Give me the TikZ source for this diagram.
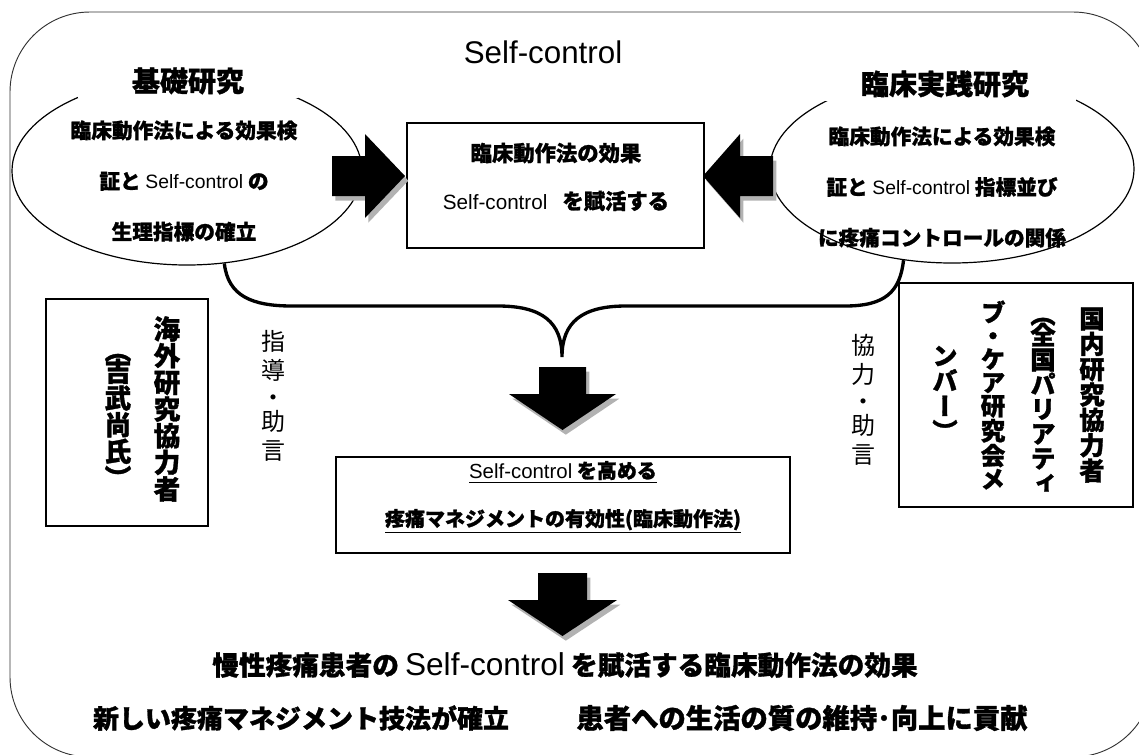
\documentclass[tikz,border=0pt]{standalone}
\usepackage{fontspec}
\setmainfont{Liberation Sans}
\newfontfamily\lat{Liberation Sans}
\newfontfamily\jp{Noto Sans CJK JP}[BoldFeatures={FakeBold=1.2}]
\newfontfamily\jpv{Noto Sans CJK JP}[RawFeature=+vert,BoldFeatures={FakeBold=1.2}]
\usepackage{tikz}
\usetikzlibrary{shapes}
\usetikzlibrary{shadows}

\newcommand\selfc[1]{{\lat\mdseries\fontsize{#1}{#1}\selectfont Self-control}}
\newcommand\vopen{\rotatebox[origin=c]{-90}{\jp（}}
\newcommand\vclose{\rotatebox[origin=c]{-90}{\jp）}}

\begin{document}
\begin{tikzpicture}[x=0.75pt,y=-0.75pt,
                    study/.style={ellipse,draw,line width=0.9pt,minimum width=262.5pt,minimum height=141pt},
                    head/.style={fill=white,inner sep=0pt,minimum height=26pt,font=\jp\bfseries\fontsize{21}{21}\selectfont},
                    box/.style={draw,line width=1.1pt},
                    lbl/.style={align=center,inner sep=0pt},
                    fat/.style={fill=black,drop shadow={shadow xshift=2.5pt,shadow yshift=-3.5pt,fill=black!30,opacity=1}},
                    brace/.style={line width=2.5pt},
                    vcol/.style={align=center,inner sep=0pt,font=\jpv\bfseries\fontsize{20}{20}\selectfont},
                    note/.style={align=center,inner sep=0pt,font=\jp\fontsize{18}{22}\selectfont}]

	\clip (0,0) rectangle (1139,754);
	\draw[line width=0.7pt,black!80,rounded corners=60pt] (10,12) rectangle (1153,757);

	\node[font=\lat\fontsize{23.5}{23.5}\selectfont] (title) at (543,52) {Self-control};

	% the two studies
	\node[study] (basic) at (187,171) {};
	\node[study,minimum width=273pt] (clin) at (952,169) {};
	\node[head,minimum width=165pt] (basichead) at (188,81) {基礎研究};
	\node[head,minimum width=196.5pt] (clinhead) at (945,84) {臨床実践研究};

	\node[lbl,font=\jp\bfseries\fontsize{15.5}{38}\selectfont] (basictext) at (184,181)
		{臨床動作法による効果検\\証と \selfc{14.5} の\\生理指標の確立};
	\node[lbl,font=\jp\bfseries\fontsize{15.5}{38}\selectfont] (clintext) at (942,187)
		{臨床動作法による効果検\\証と \selfc{14.5} 指標並び\\に疼痛コントロールの関係};

	% effect box
	\node[box,minimum width=222.75pt,minimum height=93.75pt] (effect) at (555.5,185.5) {};
	\node[lbl,font=\jp\bfseries\fontsize{16}{36}\selectfont] (effecttext) at (556,177)
		{臨床動作法の効果\\\selfc{15.5}\hspace{0.7em}を賦活する};

	\fill[fat] (332,156) -- (365,156) -- (365,134) -- (405,176) -- (365,218) -- (365,196) -- (332,196) -- cycle;
	\fill[fat] (773,156) -- (740,156) -- (740,134) -- (703,176) -- (740,218) -- (740,196) -- (773,196) -- cycle;

	% brace joining both studies
	\coordinate (bracetip) at (562,357);
	\draw[brace] (basic.-68) .. controls (228,296) and (252,306) .. (292,306) -- (498,306)
		.. controls (542,306) and (562,322) .. (bracetip)
		.. controls (562,322) and (582,306) .. (626,306) -- (845,306)
		.. controls (885,306) and (900,292) .. (clin.-118);

	\fill[fat] (539,367) -- (586,367) -- (586,394) -- (616,394) -- (562.5,430) -- (509,394) -- (539,394) -- cycle;

	% management box
	\node[box,minimum width=340.5pt,minimum height=72pt] (manage) at (563,505) {};
	\node[lbl,font=\jp\bfseries\fontsize{15}{36}\selectfont] (managetext) at (563,497)
		{\underline{\selfc{15.3} を高める}\\\underline{疼痛マネジメントの有効性(臨床動作法)}};

	\fill[fat] (538,573) -- (587,573) -- (587,600) -- (617,600) -- (562.5,636) -- (508,600) -- (538,600) -- cycle;

	% cooperators
	\node[box,line width=0.9pt,minimum width=121.5pt,minimum height=170.25pt] (overseas) at (127,412.5) {};
	\node[vcol] (overseas1) at (167,409) {海\\外\\研\\究\\協\\力\\者};
	\node[vcol] (overseas2) at (118,414) {\vopen\\[-4pt]吉\\武\\尚\\氏\\\vclose};

	\node[box,line width=0.9pt,minimum width=175.5pt,minimum height=168pt] (domestic) at (1016,395) {};
	\node[vcol,font=\jpv\bfseries\fontsize{19}{19}\selectfont] (domestic1) at (1092,395) {国\\内\\研\\究\\協\\力\\者};
	\node[vcol,font=\jpv\bfseries\fontsize{19}{18.5}\selectfont] (domestic2) at (1043,397) {\vopen\\[-4pt]全\\国\\パ\\リ\\ア\\テ\\ィ};
	\node[vcol,font=\jpv\bfseries\fontsize{18.5}{17.5}\selectfont] (domestic3) at (993,395) {ブ\\・\\ケ\\ア\\研\\究\\会\\メ};
	\node[vcol,font=\jpv\bfseries\fontsize{19}{19}\selectfont] (domestic4) at (945,395) {ン\\バ\\ー\\\vclose};

	\node[note] (guide) at (273,396) {指\\導\\[-2pt]・\\[-4pt]助\\言};
	\node[note] (coop) at (863,400) {協\\力\\[-2pt]・\\[-4pt]助\\言};

	% outcome
	\node[lbl,font=\jp\bfseries\fontsize{20}{20}\selectfont] (outcome) at (565,665)
		{慢性疼痛患者の \selfc{23.7} を賦活する臨床動作法の効果};
	\node[lbl,font=\jp\bfseries\fontsize{19.5}{20}\selectfont] (newtech) at (301,718) {新しい疼痛マネジメント技法が確立};
	\node[lbl,font=\jp\bfseries\fontsize{20.5}{20}\selectfont] (qol) at (802,718) {患者への生活の質の維持･向上に貢献};
\end{tikzpicture}
\end{document}
